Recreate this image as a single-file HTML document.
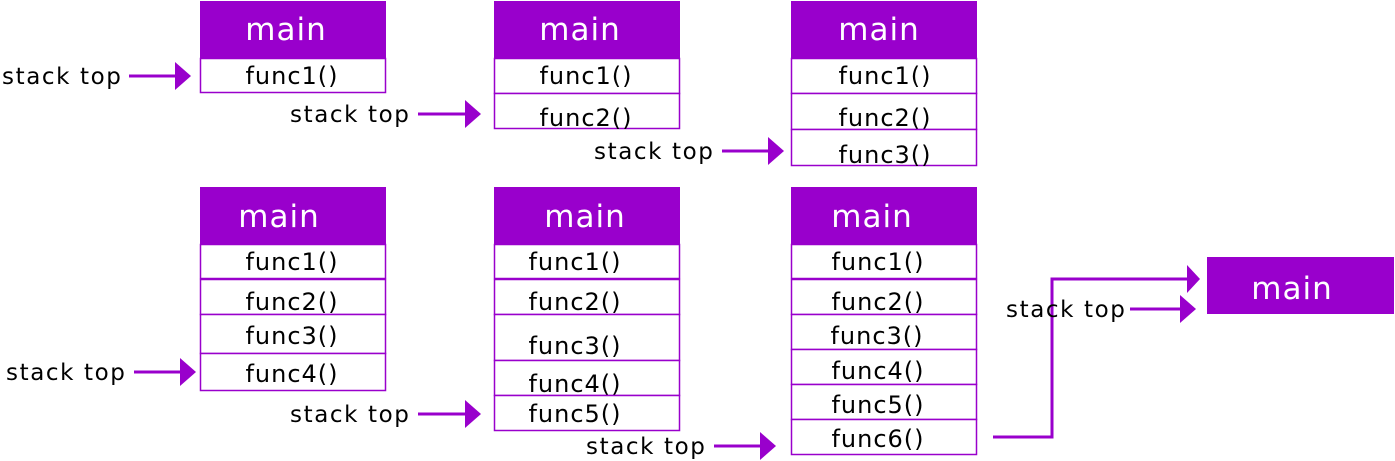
<!DOCTYPE html>
<html><head><meta charset="utf-8"><style>
html,body{margin:0;padding:0;background:#fff;width:1395px;height:461px;overflow:hidden}
svg{display:block}
text{font-family:"DejaVu Sans","Liberation Sans",sans-serif}
.f{font-size:24px;letter-spacing:1px;fill:#000;text-anchor:middle}
.m{font-size:31px;letter-spacing:1px;fill:#fff;text-anchor:middle}
.s{font-size:23px;letter-spacing:1.6px;fill:#000}
.c{fill:#fff;stroke:#9900cc;stroke-width:1.5}
.h{fill:#9900cc}
.l{stroke:#9900cc;stroke-width:3;fill:none}
.t{fill:#9900cc}
</style></head><body>
<svg width="1395" height="461" viewBox="0 0 1395 461">
<rect class="h" x="200" y="1" width="186" height="57"/><text class="m" x="286" y="40">main</text>
<rect class="c" x="200.5" y="58.5" width="185" height="34" stroke="#c880e6"/><text class="f" x="292" y="84">func1()</text>
<rect class="h" x="494" y="1" width="186" height="57"/><text class="m" x="580" y="40">main</text>
<rect class="c" x="494.5" y="58.5" width="185" height="35"/><text class="f" x="586" y="84">func1()</text>
<rect class="c" x="494.5" y="93.5" width="185" height="35"/><text class="f" x="586" y="126">func2()</text>
<rect class="h" x="791" y="1" width="186" height="57"/><text class="m" x="879" y="40">main</text>
<rect class="c" x="791.5" y="58.5" width="185" height="35" stroke="#c880e6"/><text class="f" x="885" y="84">func1()</text>
<rect class="c" x="791.5" y="93.5" width="185" height="36"/><text class="f" x="885" y="126">func2()</text>
<rect class="c" x="791.5" y="129.5" width="185" height="36"/><text class="f" x="885" y="163">func3()</text>
<rect class="h" x="200" y="187" width="186" height="57"/><text class="m" x="279" y="227">main</text>
<rect class="c" x="200.5" y="244.5" width="185" height="34" stroke="#c880e6"/><text class="f" x="292" y="270">func1()</text>
<rect class="c" x="200.5" y="279.5" width="185" height="35"/><text class="f" x="292" y="310">func2()</text>
<rect class="c" x="200.5" y="314.5" width="185" height="39"/><text class="f" x="292" y="344">func3()</text>
<rect class="c" x="200.5" y="353.5" width="185" height="37"/><text class="f" x="292" y="382">func4()</text>
<rect class="h" x="494" y="187" width="186" height="57"/><text class="m" x="585" y="227">main</text>
<rect class="c" x="494.5" y="244.5" width="185" height="34" stroke="#c880e6"/><text class="f" x="575" y="270">func1()</text>
<rect class="c" x="494.5" y="279.5" width="185" height="35"/><text class="f" x="575" y="310">func2()</text>
<rect class="c" x="494.5" y="314.5" width="185" height="46"/><text class="f" x="575" y="354">func3()</text>
<rect class="c" x="494.5" y="360.5" width="185" height="35"/><text class="f" x="575" y="392">func4()</text>
<rect class="c" x="494.5" y="395.5" width="185" height="35"/><text class="f" x="575" y="422">func5()</text>
<rect class="h" x="791" y="187" width="186" height="57"/><text class="m" x="872" y="227">main</text>
<rect class="c" x="791.5" y="244.5" width="185" height="34" stroke="#c880e6"/><text class="f" x="878" y="270">func1()</text>
<rect class="c" x="791.5" y="279.5" width="185" height="35"/><text class="f" x="878" y="310">func2()</text>
<rect class="c" x="791.5" y="314.5" width="185" height="35"/><text class="f" x="877" y="344">func3()</text>
<rect class="c" x="791.5" y="349.5" width="185" height="35"/><text class="f" x="878" y="379">func4()</text>
<rect class="c" x="791.5" y="384.5" width="185" height="35"/><text class="f" x="878" y="413">func5()</text>
<rect class="c" x="791.5" y="419.5" width="185" height="35"/><text class="f" x="878" y="447">func6()</text>
<rect class="h" x="1207" y="257" width="187" height="57"/><text class="m" x="1292" y="299">main</text>
<text class="s" x="2" y="84">stack top</text><line class="l" x1="129" y1="76" x2="177" y2="76"/><polygon class="t" points="175,62 191,76 175,90"/>
<text class="s" x="290" y="122">stack top</text><line class="l" x1="418" y1="114" x2="467" y2="114"/><polygon class="t" points="465,100 481,114 465,128"/>
<text class="s" x="594" y="159">stack top</text><line class="l" x1="722" y1="151" x2="770" y2="151"/><polygon class="t" points="768,137 784,151 768,165"/>
<text class="s" x="6" y="380">stack top</text><line class="l" x1="134" y1="372" x2="182" y2="372"/><polygon class="t" points="180,358 196,372 180,386"/>
<text class="s" x="290" y="422">stack top</text><line class="l" x1="418" y1="414" x2="467" y2="414"/><polygon class="t" points="465,400 481,414 465,428"/>
<text class="s" x="586" y="454">stack top</text><line class="l" x1="714" y1="446" x2="762" y2="446"/><polygon class="t" points="760,432 776,446 760,460"/>
<polyline class="l" points="993,437 1052,437 1052,279 1189,279"/><polygon class="t" points="1187,265 1200,279 1187,293"/>
<text class="s" x="1006" y="317">stack top</text><line class="l" x1="1130" y1="309" x2="1182" y2="309"/><polygon class="t" points="1180,295 1196,309 1180,323"/>
</svg>
</body></html>
